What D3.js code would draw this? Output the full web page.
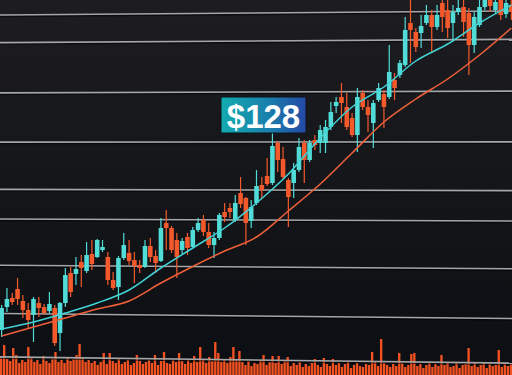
<!DOCTYPE html>
<html>
<head>
<meta charset="utf-8">
<script src="https://cdn.jsdelivr.net/npm/d3@7"></script>
<style>
  body{margin:0;background:#111317;overflow:hidden}
  svg{display:block}
</style>
</head>
<body>
<div id="chart"></div>
<script>
// candle data (price), one entry per session
const openP = [42,51.2,54.8,58.4,53.6,50,48,52.8,51.2,49.6,
  50.8,40.8,52.8,64.8,64.4,69.2,65.6,72.4,71.2,74,
  71.2,62,59.2,70.8,72.8,70,68,67.2,75.6,71.6,
  69.6,84.8,82.8,78,74,79.2,75.2,82,86,81.2,
  76,78.8,89.2,90.8,86,96.8,94.8,85.6,92.8,100,
  103.6,100.8,116.8,110.4,102,100.8,106,116.8,110,118,
  116.8,116.8,123.2,131.6,135.2,131.2,126.8,120,136.8,131.2,
  124.8,134,136.4,135.2,142,144,148,164.8,161.2,160.8,
  164.8,168,163.2,172.8,170,164.8,169.2,171.2,168.8,156,
  164,171.2,174,170,174,168.4,172]
const closeP = [50.8,54.4,53.2,54.4,50,46,54.4,50.8,48.8,52.4,
  36.8,52.8,64,57.2,66.4,66.8,72,68.4,78,75.2,
  62,58.8,70.8,76,69.6,67.6,66.8,75.6,71.2,68.8,
  82.8,82.8,74,71.2,77.6,74.8,82,84.8,81.2,76,
  78.8,88,87.2,89.2,92.8,92.4,84.8,91.2,99.6,98,
  100.4,115.6,110,103.2,95.2,106,115.2,110,116.8,116,
  122,123.2,129.2,133.2,132.8,123.2,120,135.2,131.2,128,
  132.8,138.8,131.2,145.2,138.8,148.8,162,162,155.2,163.6,
  168,163.2,168,167.2,162.8,169.2,170.8,165.2,156,167.2,
  171.2,174,171.6,173.2,168,172.8,169.2]
const highP = [52,58.8,56.8,62.8,56,52.8,55.2,55.2,52.4,57.2,
  52,53.2,66.8,67.2,71.2,72,77.2,78,78.4,78,
  73.2,65.2,71.6,80.8,78,73.2,70,78,78.8,74,
  86.8,90,83.6,80.8,78.8,80.8,83.2,86.8,88,84.8,
  81.2,88.8,92.8,92.8,96,103.2,95.2,94,106,103.2,
  110.8,122,117.6,115.2,102.8,108.8,118.8,118,118,120,
  124,126,133.2,135.2,140.8,136.8,128.8,138.8,138,134,
  134,140.8,138,156,144.8,150,167.2,174,162.8,168,
  172,170,172,176,174,172,174,175.2,170.8,169.2,
  174,176,176,175.2,176,175.2,174]
const lowP = [39.2,49.2,52,52,46.8,42.8,37.2,47.2,48,48.8,
  35.6,33.6,51.2,55.2,60,59.2,64.8,66,70.8,73.2,
  60,58,54,70,68,60.8,64.8,66.8,69.2,64.8,
  69.2,74,72.8,62.8,72,72,74.4,81.2,79.6,74.8,
  70.8,78,85.2,86.8,85.2,90.8,76,82.8,92,94.8,
  99.6,100,105.2,102,83.2,94.8,105.2,100.8,109.2,114,
  112.8,112.8,122,128.8,124.8,122,119.2,113.2,130,121.2,
  114.8,133.2,122.8,134.4,134,142.8,147.2,148.8,153.2,154.8,
  164,152.8,162,161.2,158.8,157.2,168,159.2,144,152.8,
  163.2,170,169.2,168.4,166,166.8,166]

// moving averages read at every 6th session
const maIdx = [0,6,12,18,24,30,36,42,48,54,60,66,72,78,84,90,96]
const maFast = [42.4,45.2,48.8,52.8,58,66.8,74.8,82.8,92.8,104.4,118.8,131.2,139.2,149.6,156.4,164.8,172]
const maSlow = [39.6,43.2,46.8,50.4,53.6,60.8,67.4,73.6,79.2,89.6,100.4,112.8,125.2,134.4,142.4,152,162.8]

const volume = [18,30,16,14,27,20,12,15,13,28,
  17,13,15,11,19,14,12,16,23,13,
  15,12,18,14,16,20,31,17,13,15,
  12,14,10,13,22,11,22,14,12,16,
  11,13,15,10,12,20,14,11,13,15,
  12,20,10,14,23,12,11,15,13,22,
  14,11,16,12,19,13,28,15,12,18,
  14,33,22,13,16,12,18,28,15,24,
  13,10,14,9,12,11,15,20,10,13,
  19,12,19,11,14,18,9,12,10,13,
  8,11,9,12,16,10,8,17,11,9,
  16,10,12,8,11,13,7,10,12,9,
  8,11,10,23,14,9,36,12,10,8,
  11,9,22,12,8,10,21,22,9,11,
  7,10,12,8,11,9,20,10,13,8,
  9,12,7,10,11,27,9,12,8,10,
  13,7,11,9,10,25,8,12,9,11]

const gridPrices = [168.8,157.6,137.2,117.2,98,86,67.2,47.6,30]
const labelText = "$128"

const width = 512, height = 375
const upColor = "#52dcd8", downColor = "#f4592c"

const svg = d3.select("#chart").append("svg")
    .attr("width", width)
    .attr("height", height)

const defs = svg.append("defs")
const bg = defs.append("linearGradient").attr("id", "bg")
    .attr("x1", 0).attr("y1", 0).attr("x2", 0).attr("y2", 1)
bg.append("stop").attr("offset", "0%").attr("stop-color", "#1d1d21")
bg.append("stop").attr("offset", "100%").attr("stop-color", "#0b0e12")

const tag = defs.append("linearGradient").attr("id", "tag")
    .attr("x1", 0).attr("y1", 0).attr("x2", 1).attr("y2", 0)
tag.append("stop").attr("offset", "0%").attr("stop-color", "#13abb0")
tag.append("stop").attr("offset", "55%").attr("stop-color", "#1a80ac")
tag.append("stop").attr("offset", "100%").attr("stop-color", "#2449a6")

svg.append("rect")
    .attr("width", width)
    .attr("height", height)
    .attr("fill", "url(#bg)")

const x = d3.scaleBand()
    .domain(d3.range(openP.length))
    .range([-0.65, 513.65])
    .paddingInner(0.14)
const y = d3.scaleLinear().domain([24, 174]).range([height, 0])

const xv = d3.scaleBand()
    .domain(d3.range(volume.length))
    .range([0, width])
    .paddingInner(0.22)
const yv = d3.scaleLinear().domain([0, 40]).range([height, 335])

// volume
svg.append("g").selectAll("rect")
    .data(volume)
    .join("rect")
    .attr("x", (d, i) => xv(i))
    .attr("y", d => yv(d))
    .attr("width", xv.bandwidth())
    .attr("height", d => height - yv(d))
    .attr("fill", "#f25121")

// grid, slightly tilted like the photo
const grid = svg.append("g")
gridPrices.forEach(v => {
    let y0 = y(v)
    let tilt = (y0 - 150) * 0.03
    grid.append("line")
        .attr("x1", 0).attr("x2", width)
        .attr("y1", y0 - tilt / 2 + 1.5).attr("y2", y0 + tilt / 2 + 1.5)
        .attr("stroke", "#000").attr("stroke-opacity", 0.55).attr("stroke-width", 1.4)
    grid.append("line")
        .attr("x1", 0).attr("x2", width)
        .attr("y1", y0 - tilt / 2).attr("y2", y0 + tilt / 2)
        .attr("stroke", "#a3a6a7").attr("stroke-width", 1.6)
})

// candles
const cx = i => x(i) + x.bandwidth() / 2
const candles = svg.append("g").selectAll("g")
    .data(d3.range(openP.length))
    .join("g")
candles.append("line")
    .attr("x1", cx).attr("x2", cx)
    .attr("y1", i => y(highP[i]))
    .attr("y2", i => y(lowP[i]))
    .attr("stroke", i => closeP[i] >= openP[i] ? upColor : downColor)
    .attr("stroke-width", 1.2)
candles.append("rect")
    .attr("x", i => x(i))
    .attr("width", x.bandwidth())
    .attr("y", i => y(Math.max(openP[i], closeP[i])))
    .attr("height", i => Math.max(1, Math.abs(y(openP[i]) - y(closeP[i]))))
    .attr("fill", i => closeP[i] >= openP[i] ? upColor : downColor)

// moving averages
const maLine = vals => d3.line()
    .x((d, k) => cx(maIdx[k]))
    .y(d => y(d))
    .curve(d3.curveMonotoneX)(vals)
svg.append("path")
    .attr("d", maLine(maSlow))
    .attr("fill", "none")
    .attr("stroke", "#f0603a")
    .attr("stroke-width", 1.5)
svg.append("path")
    .attr("d", maLine(maFast))
    .attr("fill", "none")
    .attr("stroke", "#43d3d6")
    .attr("stroke-width", 1.5)

// price tag
const label = svg.append("g")
label.append("rect")
    .attr("x", 221).attr("y", 97)
    .attr("width", 85).attr("height", 36)
    .attr("fill", "url(#tag)")
    .attr("stroke", "#0c1418").attr("stroke-width", 1)
label.append("text")
    .attr("x", 263.5).attr("y", 127.5)
    .attr("text-anchor", "middle")
    .attr("font-family", "Liberation Sans, Arial, sans-serif")
    .attr("font-weight", "bold")
    .attr("font-size", 33)
    .attr("fill", "#ffffff")
    .text(labelText)
</script>
</body>
</html>
